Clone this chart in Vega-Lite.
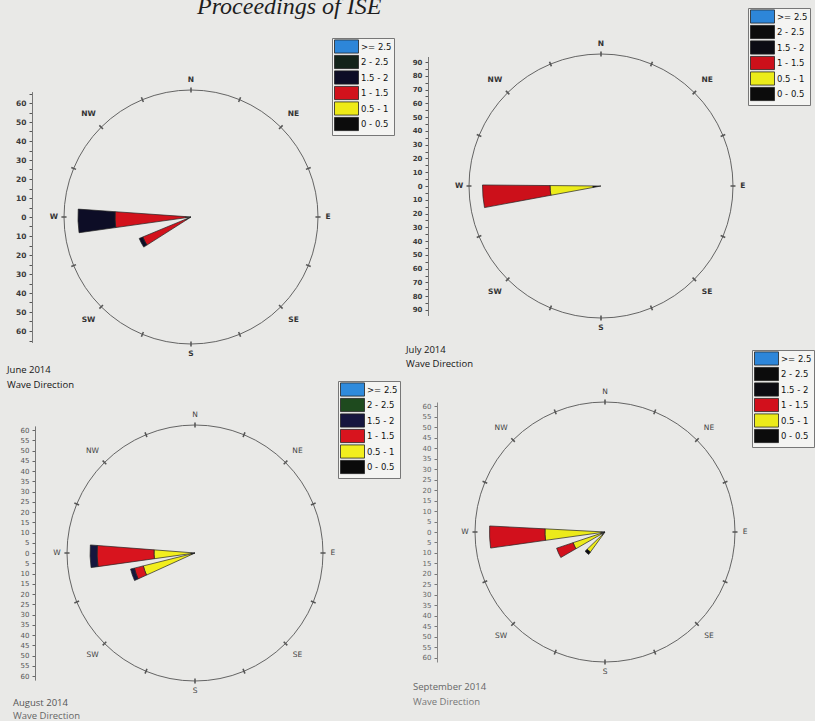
{
  "$schema": "https://vega.github.io/schema/vega-lite/v6.json",
  "background": "#e9e9e7",
  "padding": {"left": 7, "top": -6, "right": 0, "bottom": 0},
  "title": {"text": "Proceedings of ISE", "font": "Liberation Serif", "fontStyle": "italic", "fontWeight": "normal", "fontSize": 24, "color": "#1e1e1e", "anchor": "start", "dx": 190, "offset": -11},
  "datasets": {
    "compass": [
      {"lab": "N", "a": 0}, {"lab": "NE", "a": 45}, {"lab": "E", "a": 90}, {"lab": "SE", "a": 135},
      {"lab": "S", "a": 180}, {"lab": "SW", "a": 225}, {"lab": "W", "a": 270}, {"lab": "NW", "a": 315}
    ],
    "ticks": [
      {"a": 0}, {"a": 22.5}, {"a": 45}, {"a": 67.5}, {"a": 90}, {"a": 112.5}, {"a": 135}, {"a": 157.5},
      {"a": 180}, {"a": 202.5}, {"a": 225}, {"a": 247.5}, {"a": 270}, {"a": 292.5}, {"a": 315}, {"a": 337.5}
    ],
    "june": [
      {"d1": 262, "d2": 274, "r1": 0, "r2": 3, "bin": "0 - 0.5"},
      {"d1": 262, "d2": 274, "r1": 3, "r2": 40, "bin": "1 - 1.5"},
      {"d1": 262, "d2": 274, "r1": 40, "r2": 59.5, "bin": "1.5 - 2"},
      {"d1": 237.5, "d2": 247.5, "r1": 0, "r2": 3, "bin": "0 - 0.5"},
      {"d1": 237.5, "d2": 247.5, "r1": 3, "r2": 27.5, "bin": "1 - 1.5"},
      {"d1": 237.5, "d2": 247.5, "r1": 27.5, "r2": 29.5, "bin": "1.5 - 2"}
    ],
    "july": [
      {"d1": 259.5, "d2": 270.5, "r1": 0, "r2": 6, "bin": "0 - 0.5"},
      {"d1": 259.5, "d2": 270.5, "r1": 6, "r2": 37, "bin": "0.5 - 1"},
      {"d1": 259.5, "d2": 270.5, "r1": 37, "r2": 86, "bin": "1 - 1.5"}
    ],
    "august": [
      {"d1": 262, "d2": 274.4, "r1": 0, "r2": 2, "bin": "0 - 0.5"},
      {"d1": 262, "d2": 274.4, "r1": 2, "r2": 20, "bin": "0.5 - 1"},
      {"d1": 262, "d2": 274.4, "r1": 20, "r2": 47.8, "bin": "1 - 1.5"},
      {"d1": 262, "d2": 274.4, "r1": 47.8, "r2": 51.2, "bin": "1.5 - 2"},
      {"d1": 245.5, "d2": 256, "r1": 0, "r2": 2, "bin": "0 - 0.5"},
      {"d1": 245.5, "d2": 256, "r1": 2, "r2": 26, "bin": "0.5 - 1"},
      {"d1": 245.5, "d2": 256, "r1": 26, "r2": 30.5, "bin": "1 - 1.5"},
      {"d1": 245.5, "d2": 256, "r1": 30.5, "r2": 32.4, "bin": "1.5 - 2"}
    ],
    "september": [
      {"d1": 262, "d2": 273, "r1": 0, "r2": 2, "bin": "0 - 0.5"},
      {"d1": 262, "d2": 273, "r1": 2, "r2": 28.6, "bin": "0.5 - 1"},
      {"d1": 262, "d2": 273, "r1": 28.6, "r2": 55, "bin": "1 - 1.5"},
      {"d1": 240, "d2": 251.5, "r1": 0, "r2": 2, "bin": "0 - 0.5"},
      {"d1": 240, "d2": 251.5, "r1": 2, "r2": 16, "bin": "0.5 - 1"},
      {"d1": 240, "d2": 251.5, "r1": 16, "r2": 24.3, "bin": "1 - 1.5"},
      {"d1": 216, "d2": 226, "r1": 0, "r2": 2, "bin": "0 - 0.5"},
      {"d1": 216, "d2": 226, "r1": 2, "r2": 11.8, "bin": "0.5 - 1"},
      {"d1": 216, "d2": 226, "r1": 11.8, "r2": 13.2, "bin": "1.5 - 2"}
    ]
  },
  "columns": 2,
  "bounds": "flush",
  "spacing": {"row": 22, "column": 70},
  "resolve": {
    "scale": {"theta": "independent", "radius": "independent", "color": "independent", "y": "independent"},
    "legend": {"color": "independent"},
    "axis": {"y": "independent"}
  },
  "concat": [
    {
      "width": 318, "height": 326,
      "title": {"text": "June 2014", "subtitle": "Wave Direction", "orient": "bottom", "anchor": "start", "frame": "group", "dx": -25, "offset": -15, "font": "Open Sans", "fontSize": 9.5, "fontWeight": "normal", "color": "#151515", "subtitleFont": "Open Sans", "subtitleFontSize": 9.5, "subtitleColor": "#151515", "subtitlePadding": 5},
      "layer": [
        {"data": {"values": [{}]}, "mark": {"type": "rule", "strokeOpacity": 0},
         "encoding": {"y": {"datum": 0, "type": "quantitative", "scale": {"domain": [-66, 66], "range": [288.4, 37.6], "nice": false, "zero": false},
           "axis": {"title": null, "grid": false, "values": [-65,-60,-55,-50,-45,-40,-35,-30,-25,-20,-15,-10,-5,0,5,10,15,20,25,30,35,40,45,50,55,60,65],
             "labelExpr": "(datum.value % 10 == 0) ? '' + abs(datum.value) : ''", "labelOverlap": false, "tickSize": 3, "tickColor": "#555", "domainColor": "#777", "labelFont": "DejaVu Sans", "labelFontSize": 7.5, "labelFontWeight": "bold", "labelColor": "#3a3a3a", "labelPadding": 3}}}},
        {"data": {"values": [{}]},
         "mark": {"type": "arc", "filled": false, "stroke": "#555", "strokeWidth": 0.9},
         "encoding": {"theta": {"datum": 0, "type": "quantitative", "scale": {"domain": [0, 360], "range": [0, 6.283185307179586]}}, "theta2": {"datum": 360},
           "radius": {"datum": 66.84, "type": "quantitative", "scale": {"type": "linear", "domain": [0, 66.84], "range": [0, 127], "nice": false, "zero": true}}}},
        {"data": {"name": "ticks"},
         "mark": {"type": "arc", "fill": "#555", "thetaOffset": -0.006, "theta2Offset": 0.006},
         "encoding": {"theta": {"field": "a", "type": "quantitative", "stack": null}, "theta2": {"field": "a"}, "radius": {"datum": 68.2, "type": "quantitative"}, "radius2": {"datum": 65.5}}},
        {"data": {"name": "june"},
         "mark": {"type": "arc", "stroke": "#222", "strokeWidth": 0.7},
         "encoding": {"theta": {"field": "d1", "type": "quantitative", "stack": null}, "theta2": {"field": "d2"},
           "radius": {"field": "r2", "type": "quantitative"}, "radius2": {"field": "r1"},
           "color": {"field": "bin", "type": "nominal",
             "scale": {"domain": [">= 2.5", "2 - 2.5", "1.5 - 2", "1 - 1.5", "0.5 - 1", "0 - 0.5"], "range": ["#2d86d9", "#13231a", "#0d0d26", "#d2121c", "#eeea16", "#0c0c0c"]},
             "legend": {"title": null, "orient": "none", "legendX": 300, "legendY": -16}}}},
        {"data": {"name": "compass"}, "transform": [{"filter": "length(datum.lab) == 1"}],
         "mark": {"type": "text", "font": "DejaVu Sans", "fontSize": 7.5, "fontWeight": "bold", "color": "#333"},
         "encoding": {"theta": {"field": "a", "type": "quantitative", "stack": null}, "radius": {"datum": 72.1, "type": "quantitative"}, "text": {"field": "lab"}}},
        {"data": {"name": "compass"}, "transform": [{"filter": "length(datum.lab) == 2"}],
         "mark": {"type": "text", "font": "DejaVu Sans", "fontSize": 7.5, "fontWeight": "bold", "color": "#333"},
         "encoding": {"theta": {"field": "a", "type": "quantitative", "stack": null}, "radius": {"datum": 76.3, "type": "quantitative"}, "text": {"field": "lab"}}}
      ]
    },
    {
      "width": 346, "height": 264,
      "title": {"text": "July 2014", "subtitle": "Wave Direction", "orient": "bottom", "anchor": "start", "frame": "group", "dx": -22, "offset": 13.5, "font": "Open Sans", "fontSize": 9.5, "fontWeight": "normal", "color": "#151515", "subtitleFont": "Open Sans", "subtitleFontSize": 9.5, "subtitleColor": "#151515", "subtitlePadding": 5},
      "layer": [
        {"data": {"values": [{}]}, "mark": {"type": "rule", "strokeOpacity": 0},
         "encoding": {"y": {"datum": 0, "type": "quantitative", "scale": {"domain": [-94, 94], "range": [261.5, 2.5], "nice": false, "zero": false},
           "axis": {"title": null, "grid": false, "values": [-90,-85,-80,-75,-70,-65,-60,-55,-50,-45,-40,-35,-30,-25,-20,-15,-10,-5,0,5,10,15,20,25,30,35,40,45,50,55,60,65,70,75,80,85,90],
             "labelExpr": "(datum.value % 10 == 0) ? '' + abs(datum.value) : ''", "labelOverlap": false, "tickSize": 3, "tickColor": "#555", "domainColor": "#777", "labelFont": "DejaVu Sans", "labelFontSize": 7, "labelFontWeight": "bold", "labelColor": "#3a3a3a", "labelPadding": 3}}}},
        {"data": {"values": [{}]},
         "mark": {"type": "arc", "filled": false, "stroke": "#555", "strokeWidth": 0.9},
         "encoding": {"theta": {"datum": 0, "type": "quantitative", "scale": {"domain": [0, 360], "range": [0, 6.283185307179586]}}, "theta2": {"datum": 360},
           "radius": {"datum": 95.8, "type": "quantitative", "scale": {"type": "linear", "domain": [0, 95.8], "range": [0, 132], "nice": false, "zero": true}}}},
        {"data": {"name": "ticks"},
         "mark": {"type": "arc", "fill": "#555", "thetaOffset": -0.006, "theta2Offset": 0.006},
         "encoding": {"theta": {"field": "a", "type": "quantitative", "stack": null}, "theta2": {"field": "a"}, "radius": {"datum": 97.6, "type": "quantitative"}, "radius2": {"datum": 94}}},
        {"data": {"name": "july"},
         "mark": {"type": "arc", "stroke": "#222", "strokeWidth": 0.7},
         "encoding": {"theta": {"field": "d1", "type": "quantitative", "stack": null}, "theta2": {"field": "d2"},
           "radius": {"field": "r2", "type": "quantitative"}, "radius2": {"field": "r1"},
           "color": {"field": "bin", "type": "nominal",
             "scale": {"domain": [">= 2.5", "2 - 2.5", "1.5 - 2", "1 - 1.5", "0.5 - 1", "0 - 0.5"], "range": ["#2d86d9", "#0c0c0c", "#0c0c14", "#cc101a", "#ecec1a", "#0c0c0c"]},
             "legend": {"title": null, "orient": "none", "legendX": 320, "legendY": -46}}}},
        {"data": {"name": "compass"}, "transform": [{"filter": "length(datum.lab) == 1"}],
         "mark": {"type": "text", "font": "DejaVu Sans", "fontSize": 7.5, "fontWeight": "bold", "color": "#333"},
         "encoding": {"theta": {"field": "a", "type": "quantitative", "stack": null}, "radius": {"datum": 103, "type": "quantitative"}, "text": {"field": "lab"}}},
        {"data": {"name": "compass"}, "transform": [{"filter": "length(datum.lab) == 2"}],
         "mark": {"type": "text", "font": "DejaVu Sans", "fontSize": 7.5, "fontWeight": "bold", "color": "#333"},
         "encoding": {"theta": {"field": "a", "type": "quantitative", "stack": null}, "radius": {"datum": 108.9, "type": "quantitative"}, "text": {"field": "lab"}}}
      ]
    },
    {
      "width": 326, "height": 302,
      "title": {"text": "August 2014", "subtitle": "Wave Direction", "orient": "bottom", "anchor": "start", "frame": "group", "dx": -19, "offset": -6.5, "font": "Open Sans", "fontSize": 9.5, "fontWeight": "normal", "color": "#555", "subtitleFont": "Open Sans", "subtitleFontSize": 9.5, "subtitleColor": "#666", "subtitlePadding": 4},
      "layer": [
        {"data": {"values": [{}]}, "mark": {"type": "rule", "strokeOpacity": 0},
         "encoding": {"y": {"datum": 0, "type": "quantitative", "scale": {"domain": [-62, 62], "range": [278.1, 23.9], "nice": false, "zero": false},
           "axis": {"title": null, "grid": false, "offset": -3, "values": [-60,-55,-50,-45,-40,-35,-30,-25,-20,-15,-10,-5,0,5,10,15,20,25,30,35,40,45,50,55,60],
             "labelExpr": "'' + abs(datum.value)", "labelOverlap": false, "tickSize": 3, "tickColor": "#666", "domainColor": "#777", "labelFont": "DejaVu Sans", "labelFontSize": 7, "labelColor": "#555", "labelPadding": 3}}}},
        {"data": {"values": [{}]},
         "mark": {"type": "arc", "filled": false, "stroke": "#555", "strokeWidth": 0.9},
         "encoding": {"theta": {"datum": 0, "type": "quantitative", "scale": {"domain": [0, 360], "range": [0, 6.283185307179586]}}, "theta2": {"datum": 360},
           "radius": {"datum": 62.44, "type": "quantitative", "scale": {"type": "linear", "domain": [0, 62.44], "range": [0, 128], "nice": false, "zero": true}}}},
        {"data": {"name": "ticks"},
         "mark": {"type": "arc", "fill": "#555", "thetaOffset": -0.006, "theta2Offset": 0.006},
         "encoding": {"theta": {"field": "a", "type": "quantitative", "stack": null}, "theta2": {"field": "a"}, "radius": {"datum": 63.7, "type": "quantitative"}, "radius2": {"datum": 61.2}}},
        {"data": {"name": "august"},
         "mark": {"type": "arc", "stroke": "#222", "strokeWidth": 0.7},
         "encoding": {"theta": {"field": "d1", "type": "quantitative", "stack": null}, "theta2": {"field": "d2"},
           "radius": {"field": "r2", "type": "quantitative"}, "radius2": {"field": "r1"},
           "color": {"field": "bin", "type": "nominal",
             "scale": {"domain": [">= 2.5", "2 - 2.5", "1.5 - 2", "1 - 1.5", "0.5 - 1", "0 - 0.5"], "range": ["#2f8bdc", "#1e4a1e", "#16163e", "#d8141e", "#f2ee1e", "#0a0a0a"]},
             "legend": {"title": null, "orient": "none", "legendX": 306, "legendY": -21}}}},
        {"data": {"name": "compass"}, "transform": [{"filter": "length(datum.lab) == 1"}],
         "mark": {"type": "text", "font": "DejaVu Sans", "fontSize": 7.5, "color": "#444"},
         "encoding": {"theta": {"field": "a", "type": "quantitative", "stack": null}, "radius": {"datum": 67.3, "type": "quantitative"}, "text": {"field": "lab"}}},
        {"data": {"name": "compass"}, "transform": [{"filter": "length(datum.lab) == 2"}],
         "mark": {"type": "text", "font": "DejaVu Sans", "fontSize": 7.5, "color": "#444"},
         "encoding": {"theta": {"field": "a", "type": "quantitative", "stack": null}, "radius": {"datum": 70.7, "type": "quantitative"}, "text": {"field": "lab"}}}
      ]
    },
    {
      "width": 354, "height": 260,
      "title": {"text": "September 2014", "subtitle": "Wave Direction", "orient": "bottom", "anchor": "start", "frame": "group", "dx": -15, "offset": 6, "font": "Open Sans", "fontSize": 9.5, "fontWeight": "normal", "color": "#666", "subtitleFont": "Open Sans", "subtitleFontSize": 9.5, "subtitleColor": "#777", "subtitlePadding": 6},
      "layer": [
        {"data": {"values": [{}]}, "mark": {"type": "rule", "strokeOpacity": 0},
         "encoding": {"y": {"datum": 0, "type": "quantitative", "scale": {"domain": [-62, 62], "range": [260, 0], "nice": false, "zero": false},
           "axis": {"title": null, "grid": false, "offset": -9, "values": [-60,-55,-50,-45,-40,-35,-30,-25,-20,-15,-10,-5,0,5,10,15,20,25,30,35,40,45,50,55,60],
             "labelExpr": "'' + abs(datum.value)", "labelOverlap": false, "tickSize": 3, "tickColor": "#777", "domainColor": "#888", "labelFont": "DejaVu Sans", "labelFontSize": 7, "labelColor": "#666", "labelPadding": 3}}}},
        {"data": {"values": [{}]},
         "mark": {"type": "arc", "filled": false, "stroke": "#555", "strokeWidth": 0.9},
         "encoding": {"theta": {"datum": 0, "type": "quantitative", "scale": {"domain": [0, 360], "range": [0, 6.283185307179586]}}, "theta2": {"datum": 360},
           "radius": {"datum": 61.9, "type": "quantitative", "scale": {"type": "linear", "domain": [0, 61.9], "range": [0, 130], "nice": false, "zero": true}}}},
        {"data": {"name": "ticks"},
         "mark": {"type": "arc", "fill": "#555", "thetaOffset": -0.006, "theta2Offset": 0.006},
         "encoding": {"theta": {"field": "a", "type": "quantitative", "stack": null}, "theta2": {"field": "a"}, "radius": {"datum": 63.1, "type": "quantitative"}, "radius2": {"datum": 60.7}}},
        {"data": {"name": "september"},
         "mark": {"type": "arc", "stroke": "#222", "strokeWidth": 0.7},
         "encoding": {"theta": {"field": "d1", "type": "quantitative", "stack": null}, "theta2": {"field": "d2"},
           "radius": {"field": "r2", "type": "quantitative"}, "radius2": {"field": "r1"},
           "color": {"field": "bin", "type": "nominal",
             "scale": {"domain": [">= 2.5", "2 - 2.5", "1.5 - 2", "1 - 1.5", "0.5 - 1", "0 - 0.5"], "range": ["#2d86d9", "#0c0c0c", "#0c0c12", "#d2101c", "#ecea1a", "#0c0c0c"]},
             "legend": {"title": null, "orient": "none", "legendX": 324, "legendY": -52}}}},
        {"data": {"name": "compass"}, "transform": [{"filter": "length(datum.lab) == 1"}],
         "mark": {"type": "text", "font": "DejaVu Sans", "fontSize": 7.5, "color": "#444"},
         "encoding": {"theta": {"field": "a", "type": "quantitative", "stack": null}, "radius": {"datum": 66.7, "type": "quantitative"}, "text": {"field": "lab"}}},
        {"data": {"name": "compass"}, "transform": [{"filter": "length(datum.lab) == 2"}],
         "mark": {"type": "text", "font": "DejaVu Sans", "fontSize": 7.5, "color": "#444"},
         "encoding": {"theta": {"field": "a", "type": "quantitative", "stack": null}, "radius": {"datum": 70, "type": "quantitative"}, "text": {"field": "lab"}}}
      ]
    }
  ],
  "config": {
    "view": {"stroke": null},
    "legend": {
      "symbolType": "M-2,-1.1H2V1.1H-2Z", "symbolSize": 144, "symbolOffset": 6, "symbolStrokeColor": "#222", "symbolStrokeWidth": 0.8,
      "labelFont": "DejaVu Sans", "labelFontSize": 8.5, "labelColor": "#111", "labelOffset": 8,
      "strokeColor": "#777", "fillColor": "#f4f4f2", "padding": 2, "rowPadding": -1.5
    }
  }
}
